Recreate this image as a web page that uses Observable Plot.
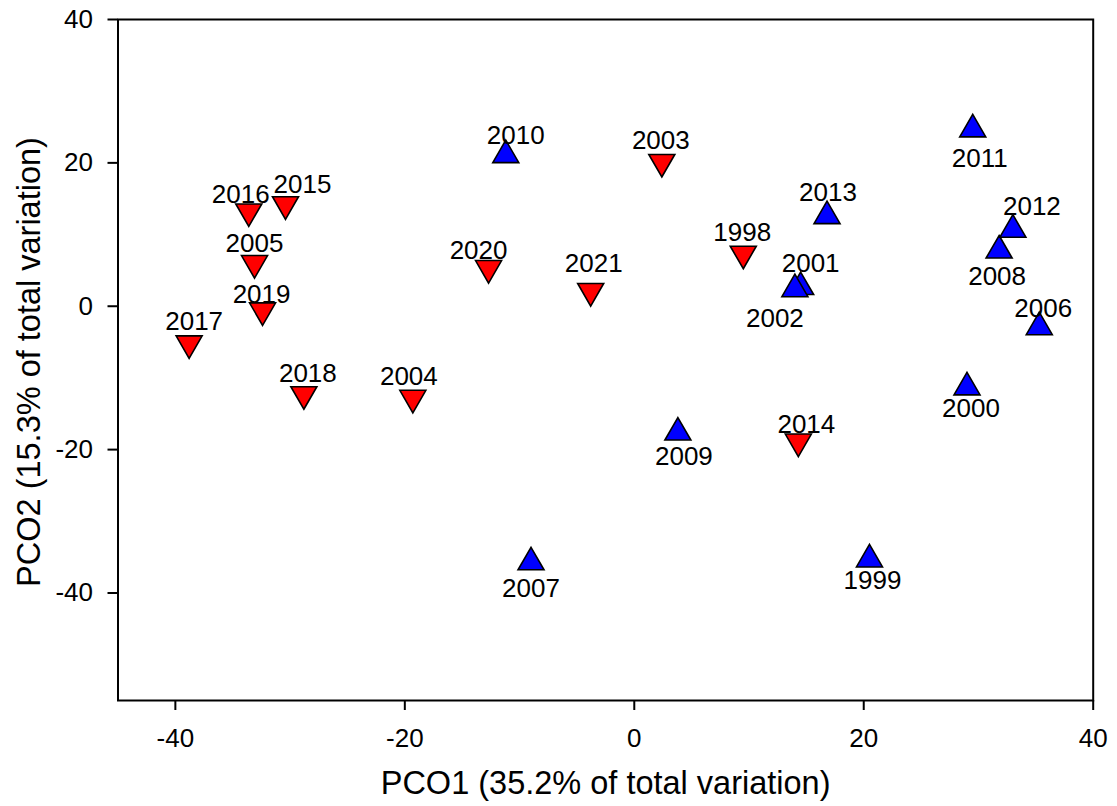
<!DOCTYPE html>
<html>
<head>
<meta charset="utf-8">
<script src="https://cdn.jsdelivr.net/npm/d3@7"></script>
<script src="https://cdn.jsdelivr.net/npm/@observablehq/plot@0.6"></script>
<style>
  html, body { margin: 0; padding: 0; background: #ffffff; }
</style>
</head>
<body>
<div id="chart"></div>
<script>
// ---- Data ----
const years  = [1998, 1999, 2000, 2001, 2002, 2003, 2004, 2005, 2006, 2007, 2008, 2009,
                2010, 2011, 2012, 2013, 2014, 2015, 2016, 2017, 2018, 2019, 2020, 2021];
const pco1   = [ 9.5, 20.5, 29.0, 14.5, 14.0,  2.4, -19.3, -33.1, 35.3, -9.0, 31.8,  3.8,
               -11.2, 29.5, 33.0, 16.8, 14.3, -30.4, -33.6, -38.8, -28.8, -32.4, -12.7, -3.8];
const pco2   = [ 6.8, -34.8, -10.8, 3.2, 2.9, 19.6, -13.3, 5.5, -2.4, -35.2, 8.3, -17.1,
                21.6, 25.2, 11.2, 13.1, -19.4, 13.7, 12.7, -5.7, -12.8, -1.1, 4.8, 1.6];
const groups = ["A", "B", "B", "B", "B", "A", "A", "A", "B", "B", "B", "B",
                "B", "B", "B", "B", "A", "A", "A", "A", "A", "A", "A", "A"];
const xTicks = [-40, -20, 0, 20, 40];
const yTicks = [-40, -20, 0, 20, 40];
const xTitle = "PCO1 (35.2% of total variation)";
const yTitle = "PCO2 (15.3% of total variation)";

// ---- Label placement (pixel offsets from each symbol, layout only) ----
const labelOffsets = {
  1998: [-1, -25], 1999: [3, 25], 2000: [4, 25], 2001: [10, -20], 2002: [-20, 33],
  2003: [-1, -25], 2004: [-4, -25], 2005: [0, -23], 2006: [4, -15], 2007: [0, 30],
  2008: [-2, 30], 2009: [6, 28], 2010: [10, -16], 2011: [7, 33], 2012: [19, -19],
  2013: [1, -20], 2014: [8, -21], 2015: [17, -23], 2016: [-8, -21], 2017: [5, -25],
  2018: [4, -24], 2019: [-1, -19], 2020: [-10, -21], 2021: [3, -31]
};

const data = years.map((yr, i) => ({
  year: String(yr), pco1: pco1[i], pco2: pco2[i], group: groups[i]
}));

// Triangles centred on their bounding box
function triangle(up) {
  return {
    draw(ctx, size) {
      const r = Math.sqrt(size / Math.PI);
      const h = r * Math.sqrt(3) / 2;
      if (up) { ctx.moveTo(0, -h); ctx.lineTo(r, h); ctx.lineTo(-r, h); }
      else    { ctx.moveTo(0, h);  ctx.lineTo(r, -h); ctx.lineTo(-r, -h); }
      ctx.closePath();
    }
  };
}

const labelMarks = data.map(d => Plot.text([d], {
  x: "pco1", y: "pco2", text: "year",
  dx: labelOffsets[d.year][0], dy: labelOffsets[d.year][1],
  fontSize: 26, fill: "black"
}));

const chart = Plot.plot({
  width: 1117,
  height: 806,
  marginTop: 19,
  marginBottom: 106,
  marginLeft: 117.5,
  marginRight: 24.3,
  style: { fontFamily: "'Liberation Sans', Arial, sans-serif", background: "#ffffff", color: "black" },
  x: { domain: [-45, 40] },
  y: { domain: [-55, 40] },
  marks: [
    Plot.axisX({ ticks: xTicks, tickSize: 10, tickPadding: 18, fontSize: 26, strokeWidth: 2, label: null, tickFormat: d => String(d) }),
    Plot.axisY({ ticks: yTicks, tickSize: 10, tickPadding: 15, fontSize: 26, strokeWidth: 2, label: null, tickFormat: d => String(d) }),
    Plot.frame({ stroke: "black", strokeWidth: 2 }),
    Plot.dot(data.filter(d => d.group === "A"), {
      x: "pco1", y: "pco2", r: 13, symbol: triangle(false),
      fill: "#ff0000", stroke: "black", strokeWidth: 1.6
    }),
    Plot.dot(data.filter(d => d.group === "B"), {
      x: "pco1", y: "pco2", r: 13, symbol: triangle(true),
      fill: "#0000ff", stroke: "black", strokeWidth: 1.6
    }),
    ...labelMarks,
    Plot.text([xTitle], { text: d => d, frameAnchor: "bottom", textAnchor: "middle", lineAnchor: "middle", dy: 83.5, fontSize: 32.5, fill: "black" }),
    Plot.text([yTitle], { text: d => d, frameAnchor: "left", textAnchor: "middle", lineAnchor: "middle", rotate: -90, dx: -88, dy: 2, fontSize: 32.5, fill: "black" })
  ]
});

document.getElementById("chart").appendChild(chart);
</script>
</body>
</html>
